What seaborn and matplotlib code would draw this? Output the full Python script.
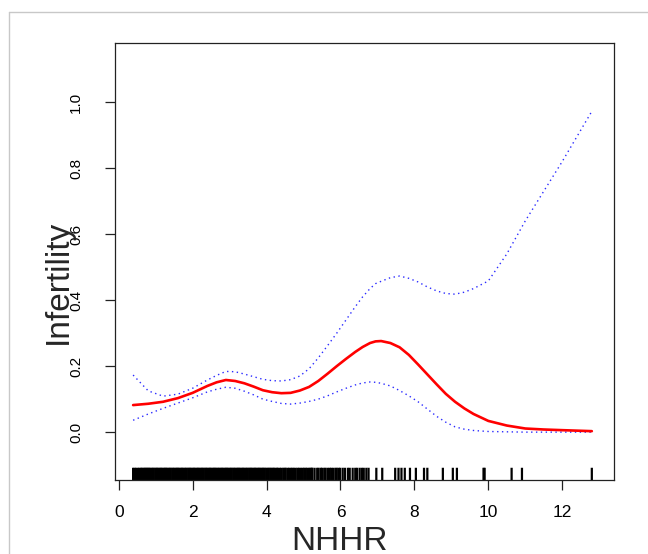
import numpy as np
import pandas as pd
import matplotlib
matplotlib.use("Agg")
import matplotlib.pyplot as plt
from matplotlib.lines import Line2D
import seaborn as sns

# ─── Data ─────────────────────────────────────────────────────────────────────
nhhr = [0.39, 0.8, 1.2, 1.6, 2.0, 2.4, 2.65, 2.9, 3.15, 3.4, 3.65, 3.9, 4.15,
        4.4, 4.65, 4.9, 5.15, 5.4, 5.65, 5.9, 6.15, 6.4, 6.6, 6.8, 6.95, 7.1,
        7.35, 7.6, 7.85, 8.1, 8.35, 8.6, 8.85, 9.1, 9.35, 9.6, 10.0, 10.5,
        11.0, 11.5, 12.0, 12.8]

fit = [0.082, 0.086, 0.092, 0.103, 0.119, 0.140, 0.151, 0.158, 0.155, 0.148,
       0.138, 0.127, 0.121, 0.118, 0.119, 0.126, 0.137, 0.155, 0.177, 0.200,
       0.222, 0.243, 0.258, 0.270, 0.275, 0.276, 0.270, 0.257, 0.234, 0.205,
       0.175, 0.145, 0.116, 0.092, 0.072, 0.055, 0.034, 0.020, 0.011, 0.008,
       0.006, 0.003]

upper = [0.173, 0.125, 0.109, 0.115, 0.133, 0.158, 0.172, 0.184, 0.183, 0.176,
         0.168, 0.160, 0.156, 0.155, 0.159, 0.170, 0.192, 0.225, 0.262, 0.300,
         0.340, 0.380, 0.410, 0.435, 0.450, 0.457, 0.468, 0.473, 0.466, 0.455,
         0.440, 0.428, 0.420, 0.418, 0.424, 0.435, 0.458, 0.540, 0.640, 0.730,
         0.820, 0.972]

lower = [0.036, 0.055, 0.072, 0.088, 0.104, 0.122, 0.130, 0.136, 0.133, 0.124,
         0.113, 0.100, 0.093, 0.087, 0.085, 0.088, 0.093, 0.100, 0.110, 0.122,
         0.133, 0.143, 0.149, 0.152, 0.151, 0.148, 0.140, 0.126, 0.110, 0.092,
         0.070, 0.048, 0.030, 0.016, 0.009, 0.005, 0.002, 0.001, 0.000, 0.000,
         0.000, 0.000]

# observed NHHR values (rug)
rug_vals = [
    0.39, 0.43, 0.47, 0.52, 0.56, 0.60, 0.63, 0.67, 0.70, 0.73, 0.76, 0.79,
    0.82, 0.85, 0.89, 0.92, 0.95, 0.99, 1.02, 1.05, 1.08, 1.12, 1.15, 1.18,
    1.22, 1.25, 1.28, 1.31, 1.35, 1.38, 1.41, 1.45, 1.48, 1.51, 1.55, 1.58,
    1.61, 1.64, 1.68, 1.71, 1.74, 1.78, 1.81, 1.84, 1.88, 1.91, 1.94, 1.97,
    2.01, 2.04, 2.07, 2.11, 2.14, 2.17, 2.21, 2.24, 2.27, 2.30, 2.34, 2.37,
    2.40, 2.44, 2.47, 2.50, 2.54, 2.57, 2.60, 2.63, 2.67, 2.70, 2.73, 2.77,
    2.80, 2.83, 2.87, 2.90, 2.93, 2.96, 3.00, 3.03, 3.06, 3.10, 3.13, 3.16,
    3.20, 3.23, 3.26, 3.29, 3.33, 3.36, 3.39, 3.43, 3.46, 3.49, 3.53, 3.56,
    3.59, 3.62, 3.66, 3.69, 3.72, 3.76, 3.79, 3.82, 3.86, 3.89, 3.92, 3.95,
    3.99, 4.03, 4.06, 4.10, 4.13, 4.17, 4.20, 4.24, 4.28, 4.31, 4.36, 4.40,
    4.45, 4.49, 4.52, 4.57, 4.61, 4.66, 4.70, 4.74, 4.79, 4.84, 4.88, 4.93,
    4.98, 5.02, 5.06, 5.10, 5.15, 5.19, 5.22, 5.24, 5.30, 5.37, 5.41, 5.47,
    5.50, 5.56, 5.60, 5.66, 5.71, 5.75, 5.80, 5.86, 5.90, 5.95, 5.99, 6.06,
    6.12, 6.20, 6.25, 6.33, 6.40, 6.45, 6.52, 6.58, 6.63, 6.70, 6.76, 6.97,
    7.13, 7.48, 7.57, 7.65, 7.74, 7.88, 8.04, 8.26, 8.35, 8.77, 9.04, 9.15,
    9.87, 9.90, 10.63, 10.91, 12.80,
]

x_ticks = [0, 2, 4, 6, 8, 10, 12]
y_ticks = [0.0, 0.2, 0.4, 0.6, 0.8, 1.0]
# ──────────────────────────────────────────────────────────────────────────────

sns.set_theme(style="ticks")
plt.rcParams["font.family"] = ["Liberation Sans", "DejaVu Sans"]

curves = pd.DataFrame({"NHHR": nhhr, "fit": fit, "upper": upper, "lower": lower})

fig = plt.figure(figsize=(6.48, 5.54), dpi=100)
ax = fig.add_axes([115 / 648, 74 / 554, 499 / 648, 437 / 554])

sns.lineplot(data=curves, x="NHHR", y="upper", ax=ax, color="#2b2bff",
             lw=1.0, linestyle=(0, (1, 2.5)), sort=False)
sns.lineplot(data=curves, x="NHHR", y="lower", ax=ax, color="#2b2bff",
             lw=1.0, linestyle=(0, (1, 2.5)), sort=False)
sns.lineplot(data=curves, x="NHHR", y="fit", ax=ax, color="red",
             lw=1.9, sort=False)
n_before = len(ax.collections)
sns.rugplot(x=rug_vals, ax=ax, height=0.028, color="black", linewidth=1.6,
            expand_margins=False)
for coll in ax.collections[n_before:]:
    coll.set_snap(False)  # let neighbouring ticks blend into a solid band
    coll.set_linewidth(1.6)

ax.set_xlim(-0.1, 13.4)
ax.set_ylim(-0.145, 1.179)
ax.set_xticks(x_ticks)
ax.set_yticks(y_ticks)
ax.set_yticklabels([f"{v:.1f}" for v in y_ticks], rotation=90, va="center")

for s in ax.spines.values():
    s.set_visible(True)
    s.set_color("#222222")
    s.set_linewidth(0.9)

ax.tick_params(axis="x", length=7, width=0.9, pad=11, labelsize=12.5, colors="#222222")
ax.tick_params(axis="y", length=7, width=0.9, pad=16, labelsize=11, colors="#222222")
for lab in ax.get_xticklabels() + ax.get_yticklabels():
    lab.set_color("black")

ax.set_xlabel("NHHR", fontsize=24)
ax.set_ylabel("Infertility", fontsize=24)
ax.xaxis.set_label_coords((340 - 115) / 499, -0.105)
ax.xaxis.label.set_va("top")
ax.yaxis.set_label_coords((58 - 115) / 499, (480 - 282) / 437)
ax.yaxis.label.set_va("center")

# light grey frame around the figure (top and left edges visible)
fig.add_artist(Line2D([9 / 648, 1.0], [1 - 12 / 554, 1 - 12 / 554],
                      transform=fig.transFigure, color="#c8c8c8", lw=1.0))
fig.add_artist(Line2D([9 / 648, 9 / 648], [0.0, 1 - 12 / 554],
                      transform=fig.transFigure, color="#c8c8c8", lw=1.0))

fig.savefig("out.png", dpi=100)
